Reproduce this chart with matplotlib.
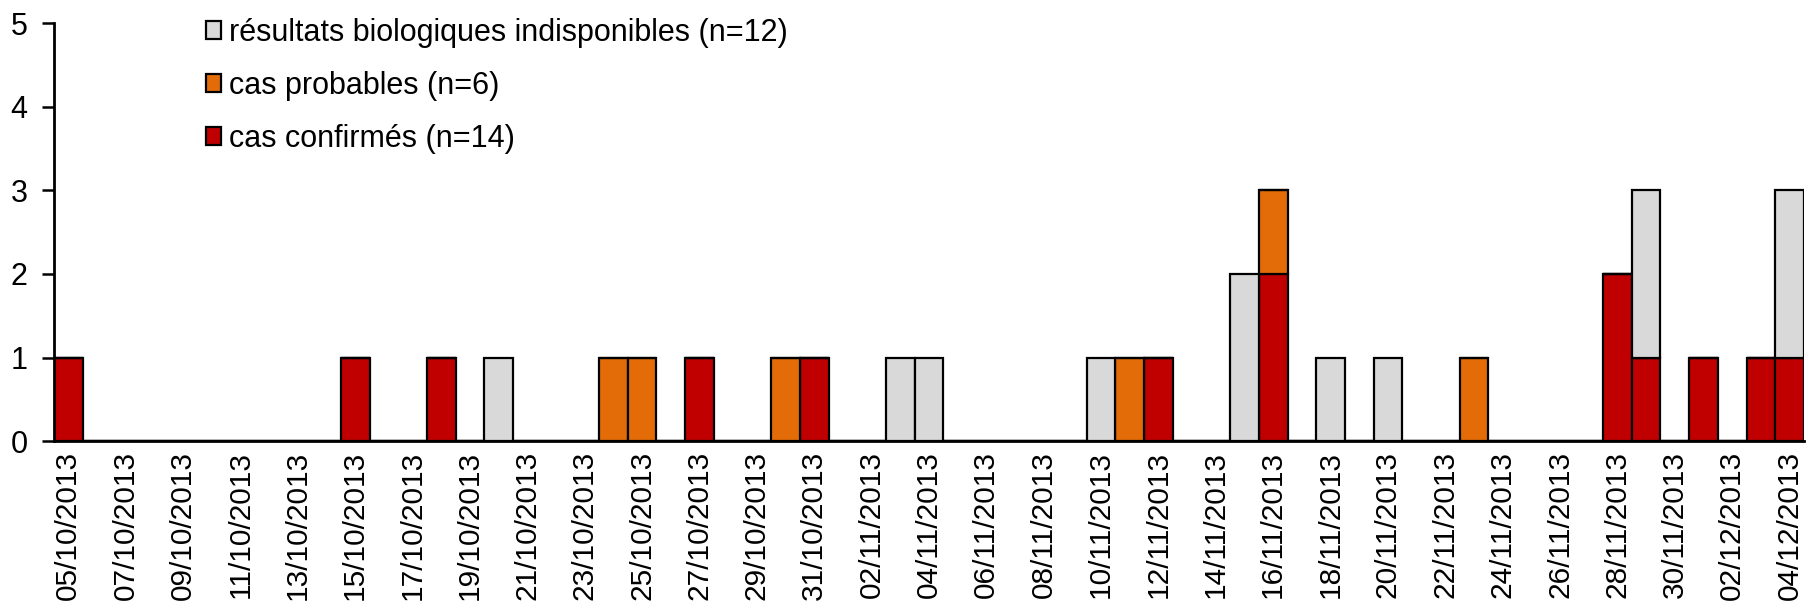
import matplotlib
matplotlib.use("Agg")
import matplotlib.pyplot as plt
import numpy as np
import pandas as pd

plt.rcParams['font.family'] = ['Liberation Sans', 'DejaVu Sans']

# daily counts, 05/10/2013 -> 04/12/2013
dates = pd.date_range("2013-10-05", "2013-12-04", freq="D")
date_labels = [d.strftime("%d/%m/%Y") for d in dates]

confirmes = [1, 0, 0, 0, 0, 0, 0, 0, 0, 0,
             1, 0, 0, 1, 0, 0, 0, 0, 0, 0,
             0, 0, 1, 0, 0, 0, 1, 0, 0, 0,
             0, 0, 0, 0, 0, 0, 0, 0, 1, 0,
             0, 0, 2, 0, 0, 0, 0, 0, 0, 0,
             0, 0, 0, 0, 2, 1, 0, 1, 0, 1,
             1]
probables = [0, 0, 0, 0, 0, 0, 0, 0, 0, 0,
             0, 0, 0, 0, 0, 0, 0, 0, 0, 1,
             1, 0, 0, 0, 0, 1, 0, 0, 0, 0,
             0, 0, 0, 0, 0, 0, 0, 1, 0, 0,
             0, 0, 1, 0, 0, 0, 0, 0, 0, 1,
             0, 0, 0, 0, 0, 0, 0, 0, 0, 0,
             0]
indisponibles = [0, 0, 0, 0, 0, 0, 0, 0, 0, 0,
                 0, 0, 0, 0, 0, 1, 0, 0, 0, 0,
                 0, 0, 0, 0, 0, 0, 0, 0, 0, 1,
                 1, 0, 0, 0, 0, 0, 1, 0, 0, 0,
                 0, 2, 0, 0, 1, 0, 1, 0, 0, 0,
                 0, 0, 0, 0, 0, 2, 0, 0, 0, 0,
                 2]

labels = ["cas confirmés (n=14)", "cas probables (n=6)",
          "résultats biologiques indisponibles (n=12)"]
colors = ["#C00000", "#E36C09", "#D9D9D9"]

fig = plt.figure(figsize=(18.13, 6.11), dpi=100)
ax = fig.add_axes([0.0298, 0.278, 0.9652, 0.684])

x = np.arange(len(dates))
bottom = np.zeros(len(dates))
handles = []
for vals, lab, col in zip([confirmes, probables, indisponibles], labels, colors):
    vals = np.array(vals)
    b = ax.bar(x, vals, width=1.0, bottom=bottom, color=col,
               edgecolor="black", linewidth=1.6, label=lab)
    bottom += vals
    handles.append(b)

ax.set_xlim(-0.5, len(dates) - 0.5)
ax.set_ylim(0, 5)
ax.set_yticks(range(0, 6))
ax.set_xticks(x[::2])
ax.set_xticklabels(date_labels[::2], rotation=90, fontsize=21.5)
ax.tick_params(axis="x", length=0, pad=7)
ax.tick_params(axis="y", length=9, width=1.8, labelsize=22, pad=10)

for s in ["top", "right"]:
    ax.spines[s].set_visible(False)
for s in ["left", "bottom"]:
    ax.spines[s].set_linewidth(2)

ax.legend(handles[::-1], labels[::-1], loc="upper left",
          bbox_to_anchor=(206 / 1813, 1 - 18 / 611), bbox_transform=fig.transFigure,
          frameon=False, fontsize=22, handlelength=0.5, handleheight=0.5,
          handletextpad=0.25, labelspacing=0.75, borderpad=0, borderaxespad=0)

fig.savefig("out.png", dpi=100)
